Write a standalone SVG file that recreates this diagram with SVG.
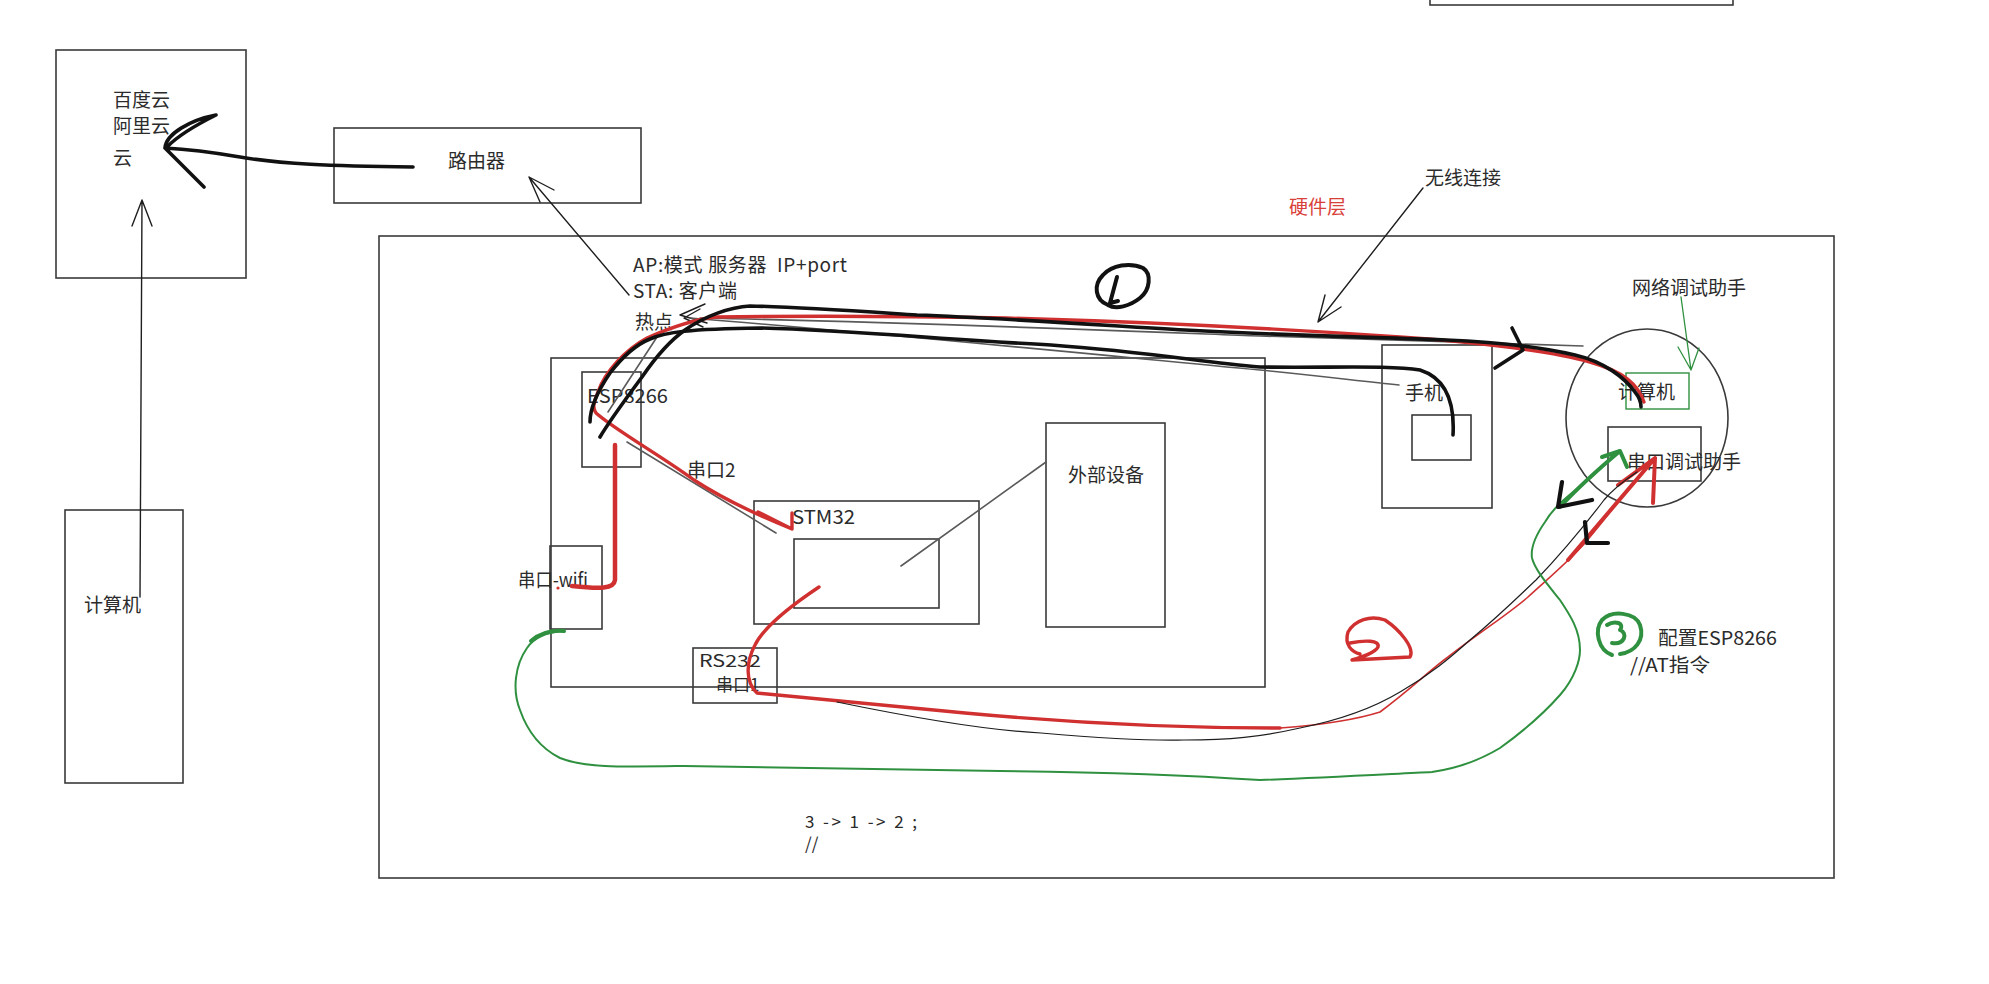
<svg xmlns="http://www.w3.org/2000/svg" width="1989" height="984" viewBox="0 0 1989 984">
<style>
.box{fill:none;stroke:#3a3a3a;stroke-width:1.6}
.t{font-family:"Noto Sans CJK SC","Noto Sans",sans-serif;font-size:19px;fill:#2b2b2b}
.s{font-size:17px}
.thin{fill:none;stroke:#1e1e1e;stroke-width:1.4;stroke-linecap:round;stroke-linejoin:round}
.gray{fill:none;stroke:#5a5a5a;stroke-width:1.6;stroke-linecap:round}
.bk{fill:none;stroke:#111;stroke-width:3.6;stroke-linecap:round;stroke-linejoin:round}
.rd{fill:none;stroke:#d03030;stroke-width:3.4;stroke-linecap:round;stroke-linejoin:round}
.rdt{fill:none;stroke:#d03030;stroke-width:1.6;stroke-linecap:round;stroke-linejoin:round}
.gr{fill:none;stroke:#2f9140;stroke-width:2;stroke-linecap:round;stroke-linejoin:round}
.grk{fill:none;stroke:#2f9140;stroke-width:4;stroke-linecap:round;stroke-linejoin:round}
</style>
<rect width="1989" height="984" fill="#ffffff"/>
<g id="top-box"><rect class="box" x="1430" y="-10" width="303" height="15"/></g>
<g id="cloud"><rect class="box" x="56" y="50" width="190" height="228"/>
<text class="t" x="113" y="107">百度云</text><text class="t" x="113" y="133">阿里云</text><text class="t" x="113" y="165">云</text></g>
<g id="router"><rect class="box" x="334" y="128" width="307" height="75"/><text class="t" x="448" y="168">路由器</text></g>
<g id="pc-left"><rect class="box" x="65" y="510" width="118" height="273"/><text class="t" x="84" y="612">计算机</text></g>
<g id="hardware"><rect class="box" x="379" y="236" width="1455" height="642"/>
<text class="t" x="1289" y="214" style="fill:#d9403a">硬件层</text></g>
<g id="wireless-label"><text class="t" x="1425" y="185">无线连接</text></g>
<g id="modes"><text class="t" x="633" y="272" textLength="214" lengthAdjust="spacing" style="white-space:pre" xml:space="preserve">AP:模式 服务器  IP+port</text>
<text class="t" x="633" y="298" textLength="104" lengthAdjust="spacing">STA: 客户端</text>
<text class="t" x="635" y="329">热点</text></g>
<g id="board"><rect class="box" x="551" y="358" width="714" height="329"/></g>
<g id="esp"><rect class="box" x="582" y="372" width="59" height="95"/><text class="t" x="587" y="403" textLength="81" lengthAdjust="spacingAndGlyphs">ESP8266</text></g>
<g id="uart2"><text class="t" x="687" y="477">串口2</text></g>
<g id="wifi"><rect class="box" x="550" y="546" width="52" height="83"/><text class="t" x="518" y="587" textLength="70" lengthAdjust="spacingAndGlyphs">串口-wifi</text></g>
<g id="stm32"><rect class="box" x="754" y="501" width="225" height="123"/><rect class="box" x="794" y="539" width="145" height="69"/><text class="t" x="792" y="524" textLength="63" lengthAdjust="spacingAndGlyphs">STM32</text></g>
<g id="external"><rect class="box" x="1046" y="423" width="119" height="204"/><text class="t" x="1068" y="482">外部设备</text></g>
<g id="rs232"><rect class="box" x="693" y="648" width="84" height="55"/><text class="t s" x="699" y="667" textLength="62" lengthAdjust="spacingAndGlyphs">RS232</text><text class="t s" x="716" y="691">串口1</text></g>
<g id="phone"><rect class="box" x="1382" y="345" width="110" height="163"/><rect class="box" x="1412" y="415" width="59" height="45"/><text class="t" x="1405" y="400">手机</text></g>
<g id="pc-right"><ellipse class="box" cx="1647" cy="418" rx="81" ry="89"/>
<rect x="1626" y="373" width="63" height="36" fill="none" stroke="#2f9140" stroke-width="1.4"/>
<text class="t" x="1618" y="399">计算机</text>
<rect class="box" x="1608" y="427" width="93" height="54"/>
<text class="t" x="1627" y="469">串口调试助手</text>
<text class="t" x="1632" y="295">网络调试助手</text></g>
<g id="notes"><text class="t" x="1658" y="645" textLength="119" lengthAdjust="spacingAndGlyphs">配置ESP8266</text>
<text class="t" x="1630" y="672" textLength="80" lengthAdjust="spacingAndGlyphs">//AT指令</text>
<text class="t s" x="805" y="828" textLength="112" lengthAdjust="spacing">3 -&gt; 1 -&gt; 2 ;</text>
<text class="t s" x="805" y="850">//</text></g>
<g id="connectors">
<path class="bk" d="M413,167 C330,166 280,164 240,157 C205,151 185,149 165,148 M165,148 L204,187 M165,148 C166,134 190,120 216,115 C198,124 180,134 168,146"/>
<path class="thin" d="M629,295 L529,177 M554,190 L529,177 L540,202"/>
<path class="thin" d="M140,597 L142,200 M132,226 L142,200 L152,226"/>
<path class="thin" d="M1423,188 L1318,322 M1325,295 L1318,322 L1341,307"/>
<path class="thin" d="M705,304 L680,315 L707,323 M700,309 L684,318 L703,327"/>
<path class="gray" d="M608,412 L657,337"/>
<path class="gray" d="M627,442 L776,533"/>
<path class="gray" d="M690,318 C900,335 1100,355 1260,370 C1320,376 1360,381 1399,385"/>
<path class="gray" d="M700,318 C900,322 1100,330 1260,336 C1400,340 1500,343 1583,346"/>
<path class="gray" d="M1046,462 L901,566"/>
<path class="rd" d="M1644,402 C1638,385 1625,372 1590,362 C1555,352 1480,342 1400,337 C1300,330 1150,322 1006,318 C900,316 780,316 716,317 C690,320 665,330 647,338 C625,350 605,372 598,392 C594,402 592,408 596,413 C615,430 660,455 694,480 C720,497 750,512 792,529 M758,512 L792,529 L792,513"/>
<path class="bk" d="M590,422 C590,410 595,395 610,373 C620,360 635,345 650,339 C665,332 690,329 760,328 C850,330 950,340 1051,345 C1150,352 1200,362 1260,367 C1330,368 1390,365 1420,370 C1445,378 1455,400 1453,435"/>
<path class="bk" d="M600,437 C610,420 625,400 642,377 C655,358 668,342 685,330 C705,316 730,307 750,306 C800,307 870,312 917,315 C1000,318 1100,325 1185,330 C1300,336 1400,338 1446,340 C1500,342 1540,347 1575,355 C1605,362 1625,378 1635,392 C1640,398 1641,403 1641,407"/>
<path class="bk" d="M1512,328 L1523,350 L1495,368"/>
<path class="rd" style="stroke-width:4.5" d="M615,445 L615,580 C614,589 600,589 572,586"/>
<circle cx="558" cy="588" r="1.6" fill="#d03030"/>
<path class="rd" d="M819,587 C795,603 765,625 755,645 C746,662 745,682 757,693 C800,697 880,705 965,713 C1040,720 1150,728 1280,728"/>
<path class="rdt" d="M1280,728 C1320,725 1355,720 1380,712 C1410,690 1430,670 1448,657 C1480,632 1510,613 1528,597 C1550,577 1570,560 1585,543 C1600,525 1612,510 1620,498"/>
<path class="rd" style="stroke-width:4" d="M1568,560 L1655,458 M1618,485 L1655,458 L1653,503"/>
<path class="thin" style="stroke-width:1.2" d="M837,702 C900,715 980,730 1041,733 C1100,738 1150,741 1184,740 C1230,740 1260,737 1300,728 C1340,720 1375,707 1400,692 C1430,675 1451,657 1470,640 C1500,615 1520,595 1536,580 C1560,555 1585,525 1604,500 C1615,487 1628,478 1637,472"/>
<path class="gr" d="M564,631 C548,632 535,636 527,648 C515,665 512,690 520,710 C527,730 540,748 560,758 C585,768 620,767 684,766 C800,768 900,770 1000,771 C1100,772 1200,776 1260,780 C1320,778 1390,774 1432,772 C1460,768 1480,760 1500,748 C1525,730 1545,712 1560,695 C1575,678 1580,660 1580,650 C1580,630 1570,615 1560,600 C1548,585 1535,570 1532,558 C1530,545 1538,532 1545,522 C1555,505 1570,495 1582,485 C1595,475 1608,460 1620,451"/>
<path class="grk" d="M564,631 C550,630 540,633 531,641"/>
<path class="grk" d="M1560,507 C1572,494 1595,472 1620,451 M1602,457 L1620,451 L1627,467"/>
<path class="gr" style="stroke-width:1.3" d="M1681,297 L1691,370 M1678,347 L1691,370 L1699,348"/>
<path class="bk" style="stroke-width:4.2" d="M1562,482 L1558,507 L1592,500 M1585,522 L1587,543 L1608,543"/>
</g>
<g id="badge1"><path class="bk" style="stroke-width:4" d="M1108,305 C1095,300 1093,285 1103,275 C1112,265 1130,262 1143,268 C1152,274 1150,290 1140,298 C1130,306 1116,310 1108,305 M1117,277 L1110,303 L1118,301"/></g>
<g id="badge2"><path class="rd" d="M1352,660 L1410,657 C1415,648 1400,630 1385,620 C1370,615 1355,620 1348,632 C1344,645 1352,652 1360,654 M1350,643 C1365,640 1380,640 1378,647 C1375,653 1362,657 1352,660"/></g>
<g id="badge3"><path class="grk" d="M1612,655 C1598,650 1594,630 1602,620 C1612,610 1635,612 1640,625 C1645,640 1635,652 1620,654 M1607,625 C1615,620 1625,623 1620,630 C1628,633 1625,645 1612,643"/></g>
</svg>
